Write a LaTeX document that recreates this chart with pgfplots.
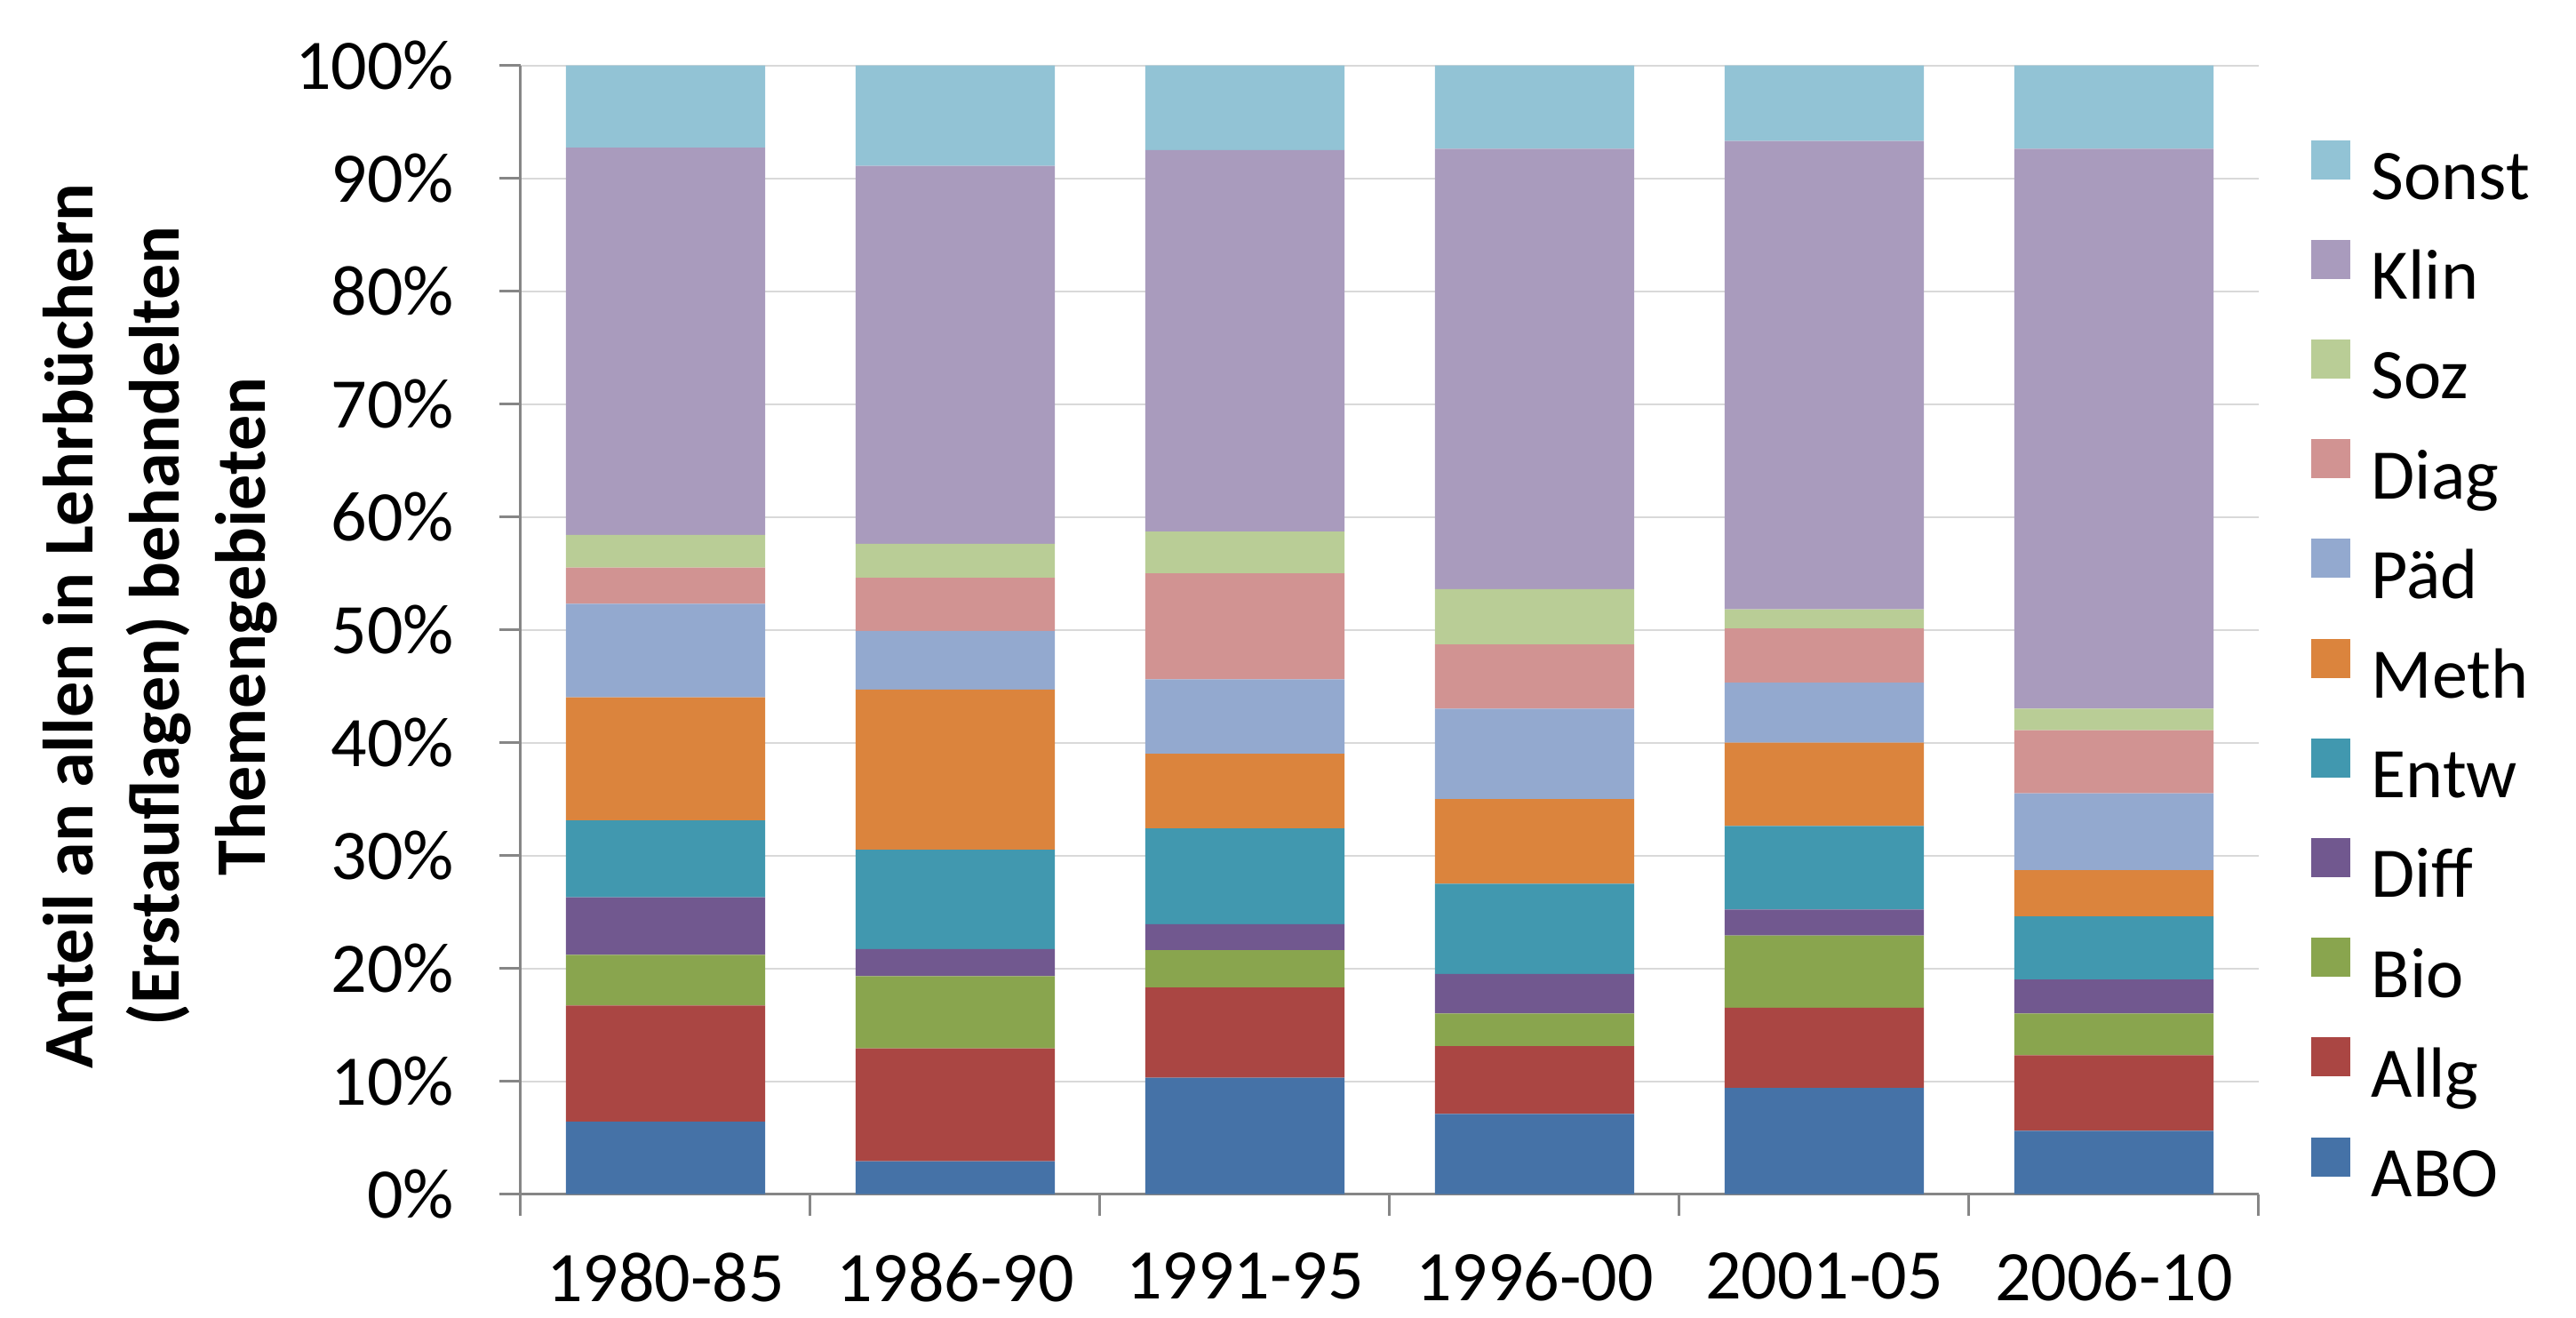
\documentclass[border=0pt]{standalone}
\usepackage{fontspec}
\setmainfont{Carlito}
\usepackage{pgfplots}
\usepackage{pgfplotstable}
\pgfplotsset{compat=1.18}
\definecolor{cABO}{HTML}{4572A7}
\definecolor{cAllg}{HTML}{AA4643}
\definecolor{cBio}{HTML}{89A54E}
\definecolor{cDiff}{HTML}{71588F}
\definecolor{cEntw}{HTML}{4198AF}
\definecolor{cMeth}{HTML}{DB843D}
\definecolor{cPaed}{HTML}{93A9CF}
\definecolor{cDiag}{HTML}{D19392}
\definecolor{cSoz}{HTML}{B9CD96}
\definecolor{cKlin}{HTML}{A99BBD}
\definecolor{cSonst}{HTML}{92C3D5}
\definecolor{axisgray}{HTML}{868686}
\definecolor{gridgray}{HTML}{D9D9D9}
\pgfplotstableread{
x ABO Allg Bio Diff Entw Meth Paed Diag Soz Klin Sonst
0 6.4 10.3 4.5 5.1 6.8 10.9 8.3 3.2 2.9 34.3 7.3
1 2.9 10.0 6.4 2.4 8.8 14.2 5.2 4.7 3.0 33.5 8.9
2 10.3 8.0 3.3 2.3 8.5 6.6 6.6 9.4 3.7 33.8 7.5
3 7.1 6.0 2.9 3.5 8.0 7.5 8.0 5.7 4.9 39.0 7.4
4 9.4 7.1 6.4 2.3 7.4 7.4 5.3 4.8 1.7 41.5 6.7
5 5.6 6.7 3.7 3.0 5.6 4.1 6.8 5.6 1.9 49.6 7.4
}\datatable
\begin{document}
\begin{tikzpicture}
\useasboundingbox (-146.5pt,-34.625pt) rectangle (578.25pt,335.875pt);
\begin{axis}[
  at={(0,0)}, anchor=south west,
  scale only axis,
  width=489pt, height=317.5pt,
  ybar stacked,
  bar width=56.1pt,
  xmin=-0.5, xmax=5.5,
  ymin=0, ymax=100,
  xtick={0,1,2,3,4,5},
  xticklabels={1980-85,1986-90,1991-95,1996-00,2001-05,2006-10},
  minor xtick={-0.5,0.5,1.5,2.5,3.5,4.5,5.5},
  major x tick style={draw=none},
  minor x tick style={draw=axisgray, line width=0.75pt},
  ytick={0,10,...,100},
  yticklabel={\pgfmathprintnumber{\tick}\%},
  /pgf/number format/assume math mode=true,
  tick align=outside,
  major tick length=6pt,
  minor tick length=6pt,
  ytick style={draw=axisgray, line width=0.75pt},
  axis x line*=bottom,
  axis y line*=left,
  axis line style={draw=axisgray, line width=0.75pt, -},
  ymajorgrids,
  major grid style={draw=gridgray, line width=0.5pt},
  ticklabel style={font=\fontsize{20}{24}\selectfont},
  yticklabel shift=9.25pt,
  xticklabel shift=7pt,
  ylabel={Anteil an allen in Lehrbüchern\\(Erstauflagen) behandelten\\Themengebieten},
  ylabel style={font=\fontsize{20}{24.25}\selectfont\bfseries, align=center,
    at={(axis description cs:-0.2076,0.503)}, anchor=center, rotate=0},
  reverse legend,
  legend style={draw=none, fill=none, at={(1,0.4594)}, anchor=west, xshift=14.5pt,
    inner sep=0pt, row sep=7.3pt,
    nodes={font=\fontsize{20}{24}\selectfont, text height=14pt, text depth=4pt, inner sep=0pt},
    /tikz/every odd column/.append style={column sep=6pt}},
  legend cell align=left,
  legend image code/.code={\fill[#1, draw=none] (0pt,0.75pt) rectangle (11pt,11.75pt);},
  every axis plot/.append style={draw=none},
]
\addplot[fill=cABO] table[x=x,y=ABO]{\datatable};
\addplot[fill=cAllg] table[x=x,y=Allg]{\datatable};
\addplot[fill=cBio] table[x=x,y=Bio]{\datatable};
\addplot[fill=cDiff] table[x=x,y=Diff]{\datatable};
\addplot[fill=cEntw] table[x=x,y=Entw]{\datatable};
\addplot[fill=cMeth] table[x=x,y=Meth]{\datatable};
\addplot[fill=cPaed] table[x=x,y=Paed]{\datatable};
\addplot[fill=cDiag] table[x=x,y=Diag]{\datatable};
\addplot[fill=cSoz] table[x=x,y=Soz]{\datatable};
\addplot[fill=cKlin] table[x=x,y=Klin]{\datatable};
\addplot[fill=cSonst] table[x=x,y=Sonst]{\datatable};
\legend{ABO,Allg,Bio,Diff,Entw,Meth,Päd,Diag,Soz,Klin,Sonst}
\end{axis}
\end{tikzpicture}
\end{document}
